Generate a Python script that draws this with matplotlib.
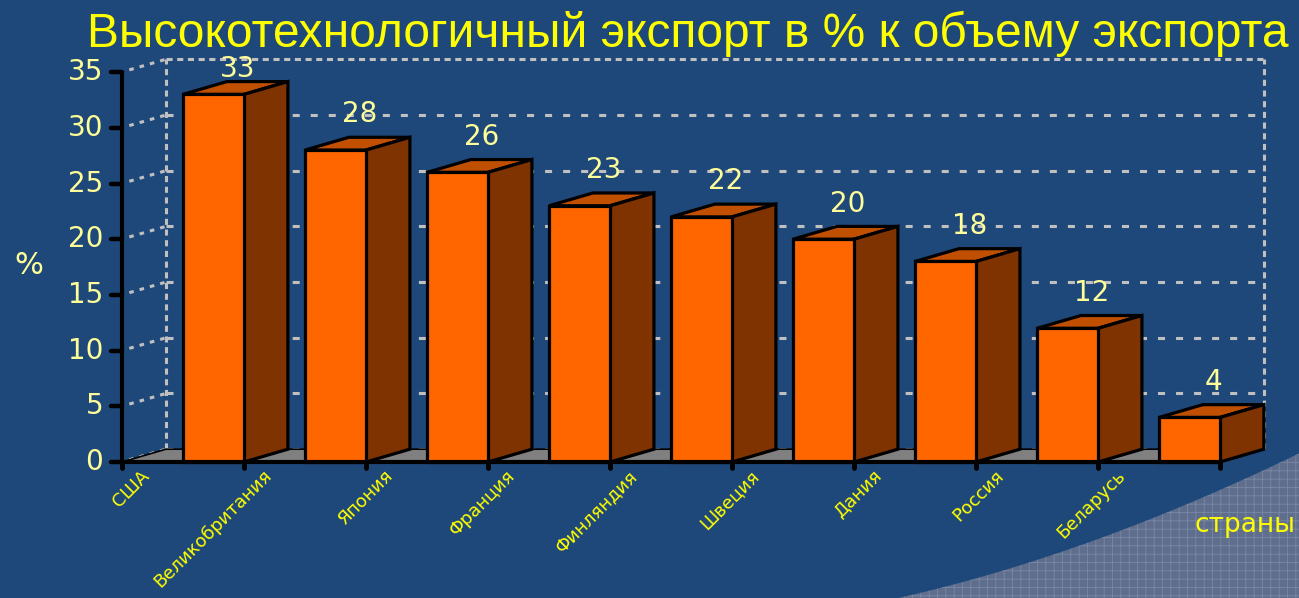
import numpy as np
import matplotlib
matplotlib.use("Agg")
import matplotlib.pyplot as plt
from matplotlib.patches import Polygon

# ---- data ----
title = "Высокотехнологичный экспорт в % к объему экспорта"
categories = ["США", "Великобритания", "Япония", "Франция", "Финляндия",
              "Швеция", "Дания", "Россия", "Беларусь"]
values = [33, 28, 26, 23, 22, 20, 18, 12, 4]
yticks = [0, 5, 10, 15, 20, 25, 30, 35]
ylabel = "%"
xlabel = "страны"

# ---- layout constants (pixels) ----
W, H = 1299, 598
X0, SX = 122.0, 122.0      # pixel x of category 0, px per category
Y0, SY = 462.0, 11.14      # pixel y of value 0, px per unit
DX, DY = 0.36, 1.15        # 3D depth offset in data units

BG = "#1f487a"
FRONT = "#ff6600"
TOP = "#c05000"
SIDE = "#7f3300"
GRID = "#c0c0c0"
LY = "#ffff99"
YEL = "#ffff00"

plt.rcParams['font.family'] = ['Liberation Sans', 'DejaVu Sans']
plt.rcParams['hatch.linewidth'] = 0.6

fig = plt.figure(figsize=(W / 100, H / 100), dpi=100, facecolor=BG)
ax = fig.add_axes([0, 0, 1, 1])
ax.set_facecolor(BG)
ax.set_xlim(-X0 / SX, (W - X0) / SX)
ax.set_ylim(-(H - Y0) / SY, Y0 / SY)
ax.axis("off")


def px(x, y):
    return ((x - X0) / SX, (Y0 - y) / SY)


# decorative textured region bottom-right
t = np.linspace(0, 1, 60)
P0, P1, P2 = np.array([880, 602]), np.array([1080, 560]), np.array([1302, 452])
curve = ((1 - t)[:, None] ** 2) * P0 + (2 * (1 - t) * t)[:, None] * P1 + (t[:, None] ** 2) * P2
pts = [px(x, y) for x, y in curve] + [px(1302, 602)]
ax.add_patch(Polygon(pts, closed=True, facecolor="#5e6e8c", edgecolor="#7888a5",
                     hatch="++", linewidth=0, zorder=0))

n = len(values)
ymax = yticks[-1]
lw_grid = 2.2
dash_h = (2.3, 3.6)
dash_e = (2.0, 1.5)

# back wall gridlines
for v in yticks[:-1]:
    ax.plot([DX, n + DX], [v + DY, v + DY], color=GRID, lw=lw_grid,
            dashes=dash_h, zorder=1)
    ax.plot([0.06, DX], [v + 0.2, v + DY], color=GRID, lw=lw_grid,
            dashes=(1.5, 2.0), zorder=1)
ax.plot([0.06, DX], [ymax + 0.2, ymax + DY], color=GRID, lw=lw_grid,
        dashes=(1.5, 2.0), zorder=1)
# wall edges
ax.plot([DX, n + DX], [ymax + DY, ymax + DY], color=GRID, lw=lw_grid, dashes=dash_e, zorder=1)
ax.plot([DX, DX], [DY, ymax + DY], color=GRID, lw=lw_grid, dashes=dash_e, zorder=1)
ax.plot([n + DX, n + DX], [DY, ymax + DY], color=GRID, lw=lw_grid, dashes=dash_e, zorder=1)

# floor
ax.add_patch(Polygon([(0, 0), (n, 0), (n + DX, DY), (DX, DY)], closed=True,
                     facecolor="#808080", edgecolor="black", linewidth=1.2, zorder=2))

# bars
lw_bar = 2.3
xs = np.arange(n) + 0.5
bw = 0.5
ax.bar(xs, values, width=bw, align="edge", color=FRONT, edgecolor="black",
       linewidth=lw_bar, zorder=4)
for x, v in zip(xs, values):
    top = [(x, v), (x + bw, v), (x + bw + DX, v + DY), (x + DX, v + DY)]
    side = [(x + bw, 0), (x + bw + DX, DY), (x + bw + DX, v + DY), (x + bw, v)]
    ax.add_patch(Polygon(top, closed=True, facecolor=TOP, edgecolor="black",
                         linewidth=lw_bar, joinstyle="miter", zorder=3))
    ax.add_patch(Polygon(side, closed=True, facecolor=SIDE, edgecolor="black",
                         linewidth=lw_bar, joinstyle="miter", zorder=3))
    ax.text(x + 0.45, min(v + 3.2, 35.3), str(v), ha="center", va="center",
            color=LY, fontsize=20, family=["DejaVu Sans"], zorder=6)

# axes lines
ax.plot([0, 0], [0, ymax], color="black", lw=3, zorder=5, solid_capstyle="butt")
ax.plot([-0.02, n], [0, 0], color="black", lw=3, zorder=5, solid_capstyle="butt")
for v in yticks:
    ax.plot([-0.09, 0], [v, v], color="black", lw=3.2, zorder=5, solid_capstyle="round")
    ax.text(-0.155, v, str(v), ha="right", va="center", color=LY, fontsize=20,
            family=["DejaVu Sans"], zorder=6)
for i in range(n + 1):
    ax.plot([i, i], [0, -0.55], color="black", lw=3.5, zorder=5, solid_capstyle="round")

# category labels (offset as in reference)
for i, c in enumerate(categories):
    ax.text(i + 0.15, -0.4, c, rotation=45, rotation_mode="anchor", ha="right",
            va="top", color=YEL, fontsize=13, family=["DejaVu Sans"], zorder=6)

# texts
fig.text(688 / W, 1 - 47 / H, title, ha="center", va="baseline", color=YEL,
         fontsize=34.5)
fig.text(29 / W, 1 - 265 / H, ylabel, ha="center", va="center", color=LY,
         fontsize=22, family=["DejaVu Sans"])
fig.text(1295 / W, 1 - 525 / H, xlabel, ha="right", va="center", color=YEL,
         fontsize=19, family=["DejaVu Sans"])

fig.savefig("out.png", dpi=100, facecolor=BG)
